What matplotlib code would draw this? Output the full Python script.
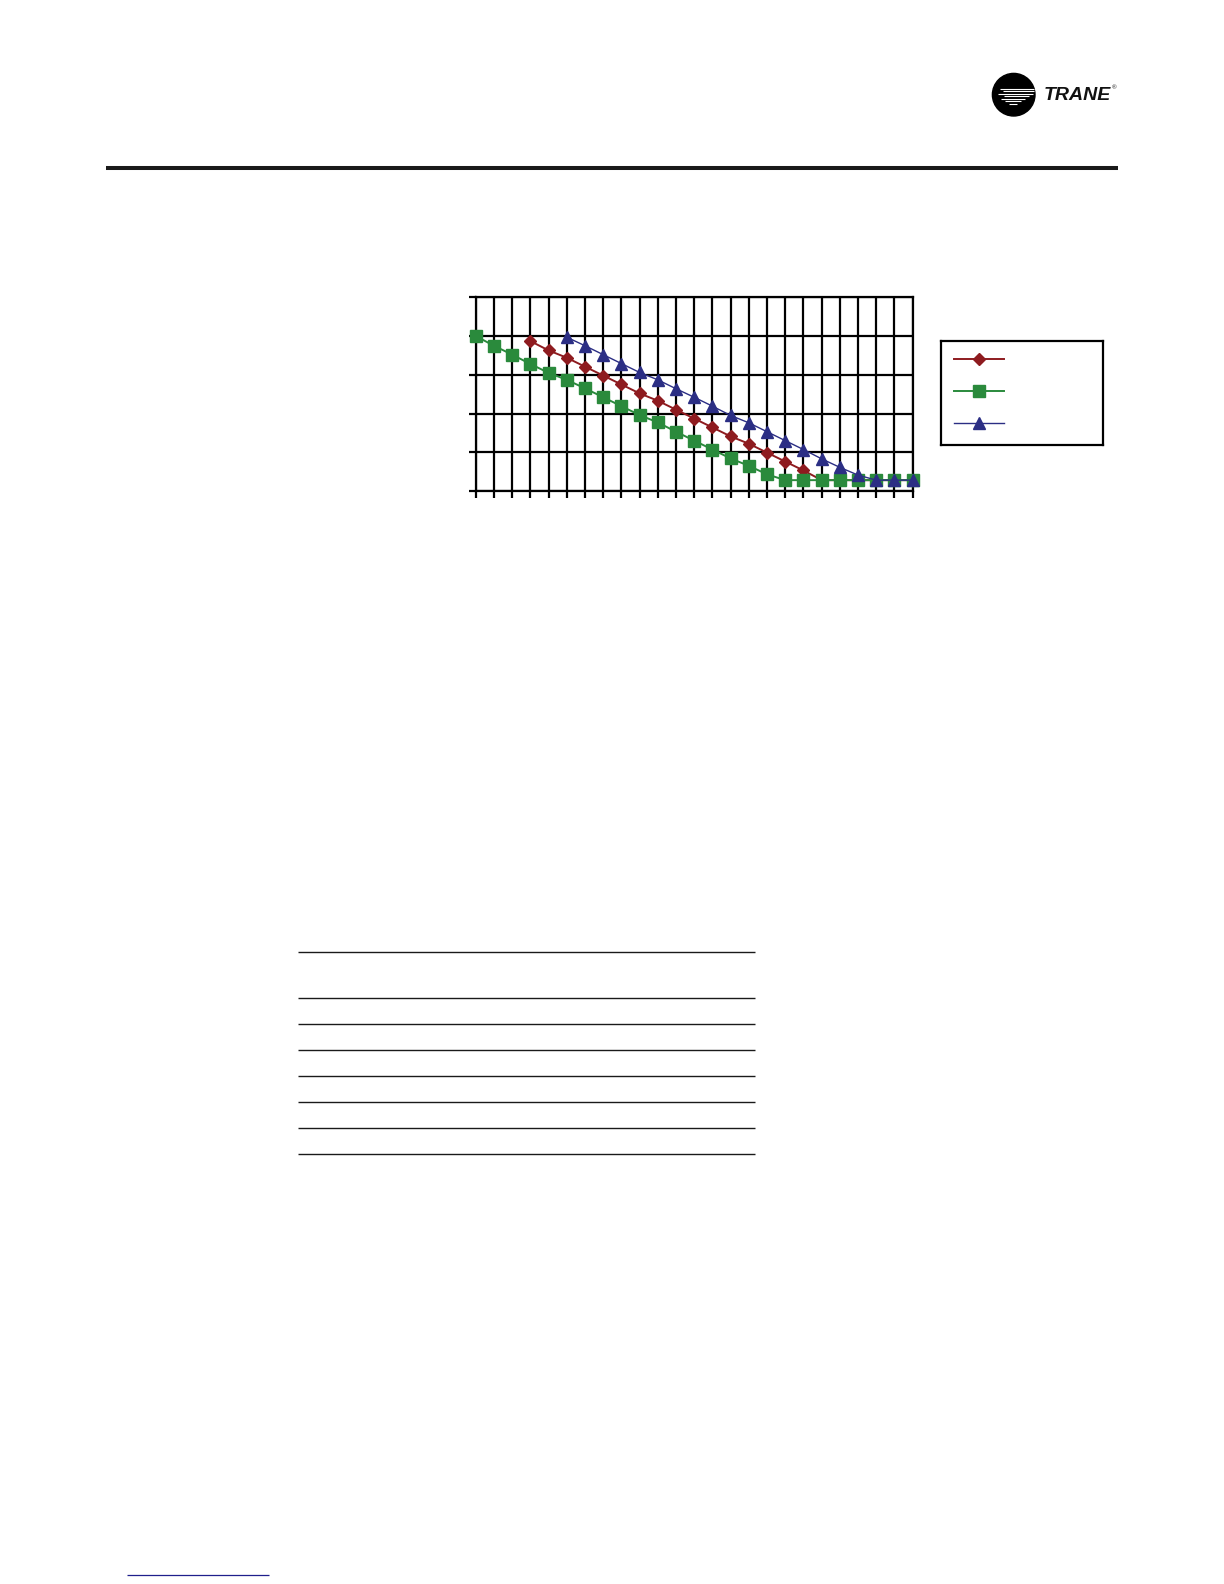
import matplotlib.pyplot as plt
from matplotlib.patches import Circle

# chart data (grid units)
x_steps = list(range(25))
green_vals = [4.00, 3.75, 3.52, 3.28, 3.05, 2.87, 2.65, 2.42, 2.19, 1.96, 1.77, 1.53,
              1.30, 1.07, 0.84, 0.65, 0.43, 0.28, 0.28, 0.28, 0.28, 0.28, 0.28, 0.28, 0.28]
red_start = 3
red_vals = [3.87, 3.63, 3.44, 3.21, 2.98, 2.75, 2.52, 2.33, 2.10, 1.87, 1.64, 1.41,
            1.22, 0.99, 0.76, 0.53, 0.28, 0.28, 0.28, 0.28, 0.28, 0.28]
blue_start = 5
blue_vals = [3.97, 3.75, 3.52, 3.29, 3.06, 2.87, 2.64, 2.42, 2.19, 1.95, 1.76, 1.53,
             1.30, 1.07, 0.83, 0.61, 0.41, 0.28, 0.28, 0.28]

red_c = '#8e1b1f'
green_c = '#2a8a3c'
blue_c = '#2b2e84'

W, H = 1224, 1584
fig = plt.figure(figsize=(W / 100, H / 100), dpi=100)
plt.rcParams['font.family'] = ['Liberation Sans', 'DejaVu Sans']

# page decorations in pixel coords
page = fig.add_axes([0, 0, 1, 1])
page.set_xlim(0, W)
page.set_ylim(H, 0)
page.axis('off')

page.hlines(168, 106, 1118, color='#1a1a1a', lw=2.9)

table_rows = [952.3, 998.3, 1024.3, 1050.3, 1076.3, 1102.3, 1128.3, 1154.3]
page.hlines(table_rows, 297.7, 755, color='#1a1a1a', lw=1.0)

page.hlines(1575, 126.7, 269, color='#1f1f8c', lw=0.9)

# logo
page.add_patch(Circle((1013.7, 94.7), 21.3, color='black'))
streaks = [(88.5, 1000, 1034), (91, 1003, 1034), (93.5, 998, 1033), (96, 1004, 1029),
           (98.5, 1001, 1025), (101, 1005, 1021), (103.5, 1009, 1017)]
for yy, x0, x1 in streaks:
    page.hlines(yy, x0, x1, color='white', lw=0.8)
page.text(1044, 100.5, 'TRANE', fontsize=14, fontweight='heavy', style='italic',
          ha='left', va='baseline', color='#111111')
page.text(1112, 88, '\u00ae', fontsize=4.5, ha='left', va='center', color='#111111')

# chart
ax = fig.add_axes([475.7 / W, 1 - 491 / H, 437 / W, 193.7 / H])
ax.set_xlim(0, 24)
ax.set_ylim(0, 5)
ax.set_xticks(x_steps)
ax.set_yticks(range(6))
ax.tick_params(direction='out', length=5, width=1.6, colors='black',
               labelbottom=False, labelleft=False)
ax.grid(True, color='black', lw=1.6)
for s in ax.spines.values():
    s.set_linewidth(1.6)
    s.set_color('black')

l_red, = ax.plot(x_steps[red_start:], red_vals, color=red_c, lw=1.4, marker='D',
                 ms=6.6, clip_on=False, zorder=3)
l_green, = ax.plot(x_steps, green_vals, color=green_c, lw=1.4, marker='s',
                   ms=9.0, clip_on=False, zorder=4)
l_blue, = ax.plot(x_steps[blue_start:], blue_vals, color=blue_c, lw=1.0, marker='^',
                  ms=9.2, clip_on=False, zorder=5)

# legend box
lax = fig.add_axes([941 / W, 1 - 445 / H, 162 / W, 104 / H])
lax.set_xticks([])
lax.set_yticks([])
for s in lax.spines.values():
    s.set_linewidth(1.6)

fig.legend([l_red, l_green, l_blue], ['', '', ''], loc='center',
           bbox_to_anchor=(979 / W, 1 - 391.7 / H), bbox_transform=fig.transFigure,
           frameon=False, numpoints=1, handlelength=3.6, handletextpad=0,
           borderpad=0, labelspacing=1.3, fontsize=10)

fig.savefig('out.png', dpi=100)
